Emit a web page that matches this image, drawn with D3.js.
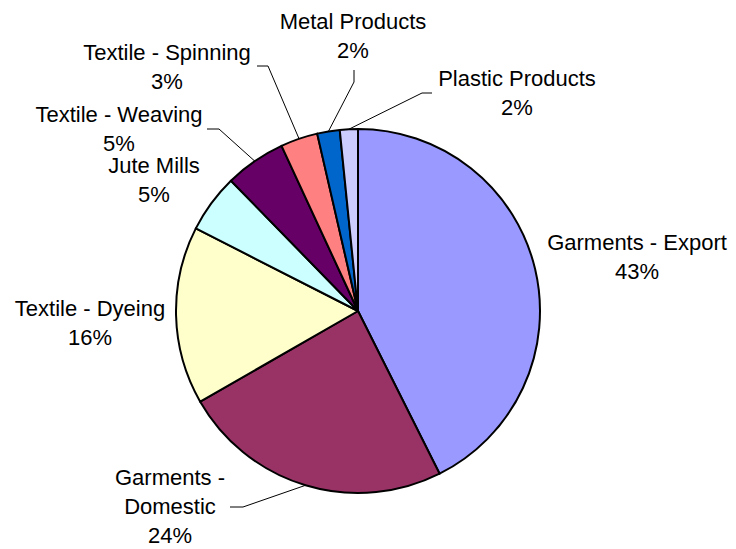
<!DOCTYPE html>
<html>
<head>
<meta charset="utf-8">
<script src="https://cdn.jsdelivr.net/npm/d3@7"></script>
<style>
  body { margin: 0; background: #fff; }
  text { font-family: "Liberation Sans", Arial, sans-serif; font-size: 22px; fill: #000; }
</style>
</head>
<body>
<div class="chart"></div>
<script>
const categories = ['Garments - Export', 'Garments - Domestic', 'Textile - Dyeing', 'Jute Mills',
  'Textile - Weaving', 'Textile - Spinning', 'Metal Products', 'Plastic Products']
const shares = [42.6, 24.1, 15.8, 5.2, 5.4, 3.3, 2.0, 1.6]
const colors = ['#9999FF', '#993366', '#FFFFCC', '#CCFFFF', '#660066', '#FF8080', '#0066CC', '#CCCCFF']

// label lines (text split) and where the label sits; elbow = leader line bend points
const labelLines = {
  'Garments - Export': ['Garments - Export'],
  'Garments - Domestic': ['Garments -', 'Domestic'],
  'Textile - Dyeing': ['Textile - Dyeing'],
  'Jute Mills': ['Jute Mills'],
  'Textile - Weaving': ['Textile - Weaving'],
  'Textile - Spinning': ['Textile - Spinning'],
  'Metal Products': ['Metal Products'],
  'Plastic Products': ['Plastic Products']
}
const labelPos = {
  'Garments - Export': { x: 637, y: 250 },
  'Garments - Domestic': { x: 170, y: 485, elbow: [[230, 507], [243, 507]] },
  'Textile - Dyeing': { x: 90, y: 316 },
  'Jute Mills': { x: 154, y: 173 },
  'Textile - Weaving': { x: 119, y: 122, elbow: [[207, 129], [219, 129]] },
  'Textile - Spinning': { x: 167, y: 60, elbow: [[257, 66], [268, 66]] },
  'Metal Products': { x: 353, y: 29, elbow: [[354, 70], [354, 82]] },
  'Plastic Products': { x: 517, y: 86, elbow: [[432, 93], [422, 93]] }
}

const width = 736
const height = 549
const cx = 358
const cy = 311
const r = 182
const lineGap = 29

const svg = d3.select('.chart').append('svg')
  .attr('width', width)
  .attr('height', height)

const data = categories.map((c, i) => ({ name: c, value: shares[i], color: colors[i] }))

const pie = d3.pie().sort(null).value(d => d.value)
const arc = d3.arc().innerRadius(0).outerRadius(r)
const edge = d3.arc().innerRadius(r).outerRadius(r)

const g = svg.append('g').attr('transform', `translate(${cx},${cy})`)
const arcs = pie(data)

g.selectAll('path.slice')
  .data(arcs)
  .enter()
  .append('path')
  .attr('class', 'slice')
  .attr('d', arc)
  .attr('fill', d => d.data.color)
  .attr('stroke', '#000')
  .attr('stroke-width', 2)
  .attr('stroke-linejoin', 'round')

// leader lines
arcs.forEach(a => {
  const p = labelPos[a.data.name]
  if (!p.elbow) return
  const end = edge.centroid(a)
  const pts = p.elbow.concat([[end[0] + cx, end[1] + cy]])
  svg.append('path')
    .attr('d', d3.line()(pts))
    .attr('fill', 'none')
    .attr('stroke', '#000')
    .attr('stroke-width', 1)
})

// labels
arcs.forEach(a => {
  const p = labelPos[a.data.name]
  const lines = labelLines[a.data.name].concat([Math.round(a.data.value) + '%'])
  const t = svg.append('text')
    .attr('text-anchor', 'middle')
  lines.forEach((l, i) => {
    t.append('tspan')
      .attr('x', p.x)
      .attr('y', p.y + i * lineGap)
      .text(l)
  })
})
</script>
</body>
</html>
